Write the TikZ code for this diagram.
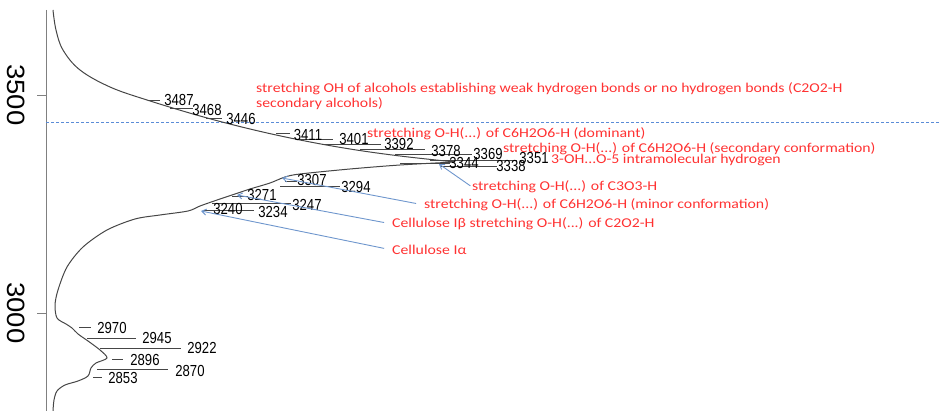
\documentclass[tikz,border=0pt]{standalone}
\usepackage{fontspec}
\usepackage{xcolor}
\usepackage{tikz}
\usetikzlibrary{arrows.meta}

\newfontfamily\redfont[FakeStretch=1.17]{Carlito}
\newfontfamily\numfont[FakeStretch=0.82]{Liberation Sans}
\newfontfamily\axfont[FakeStretch=1.1]{Liberation Sans}
\definecolor{bandred}{RGB}{255,50,50}
\definecolor{arrowblue}{RGB}{110,150,205}
\definecolor{dashblue}{RGB}{90,140,215}
\definecolor{curvegray}{RGB}{70,70,70}

\begin{document}
\begin{tikzpicture}[x=1pt, y=-1pt,
    band/.style={anchor=west, inner sep=0pt, text=bandred, align=left, font=\redfont\fontsize{13.5}{14.5}\selectfont},
    peak/.style={inner sep=0pt, font=\numfont\fontsize{16}{16}\selectfont},
    ticklbl/.style={inner sep=0pt, rotate=-90, font=\axfont\fontsize{25}{25}\selectfont},
    curve/.style={draw=curvegray, line width=1pt},
    lead/.style={draw=curvegray, line width=0.9pt},
    arrow/.style={-{Straight Barb[length=4.5pt,width=6pt]}, draw=arrowblue, line width=0.9pt, shorten <=8pt}
]
\useasboundingbox (0,0) rectangle (940,411);

% axis
\draw[draw=gray, line width=0.9pt] (46,10) -- (46,411);
\draw[draw=gray, line width=0.9pt] (37,95) -- (46,95);
\draw[draw=gray, line width=0.9pt] (37,313) -- (46,313);
\node[ticklbl] (t3500) at (16,95) {3500};
\node[ticklbl] (t3000) at (16,313) {3000};

\draw[draw=dashblue, line width=1pt, dash pattern=on 3pt off 2pt] (46,123) -- (940,123);

% spectrum
\draw[curve] plot[smooth, tension=0.6] coordinates {(53,10) (56,30) (63,50) (80,70) (110,87) (147,100)
    (200,116) (250,129) (300,140) (350,149) (400,156) (455,162)};
\draw[curve] plot[smooth, tension=0.5] coordinates {(455,162) (400,165) (350,169) (300,174) (285,177)
    (270,183) (250,189) (238,193) (220,199) (200,206) (188,211) (160,215) (135,219) (107,230) (83,247)
    (67,267) (58,290) (55,305) (57,318) (66,324) (72,328) (78,334) (88,341) (100,350) (107,358)
    (96,363) (91,368) (88,376) (78,381) (65,385) (57,391) (54,400) (53,411)};

\foreach \xa/\xb/\y in {148/160/100, 170/193/108, 206/222/118, 276/290/133, 297/333/139, 325/381/144,
    360/425/149, 395/472/154, 430/517/160, 400/450/163, 440/497/166, 285/297/181, 280/340/186,
    232/248/196, 212/291/203, 203/254/210, 79/91/327, 87/136/338, 100/181/348, 112/123/359,
    97/168/369, 93/102/377}
    \draw[lead] (\xa,\y) -- (\xb,\y);

\foreach \v/\x/\y in {3487/179/100, 3468/207/110, 3446/241/119, 3411/308/135, 3401/354/139,
    3392/399/144, 3378/446/151, 3369/488/154, 3351/534/158, 3344/464/163, 3338/511/166,
    3307/312/180, 3294/356/187, 3271/262/195, 3247/307/205, 3240/228/209, 3234/273/212,
    2970/112/328, 2945/157/338, 2922/202/348, 2896/145/360, 2870/190/371, 2853/123/378}
    \node[peak] (p\v) at (\x,\y) {\v};

% band assignments
\node[band] (weak) at (256,96) {stretching OH of alcohols establishing weak hydrogen bonds or no hydrogen bonds (C2O2-H\\secondary alcohols)};
\node[band] (dominant) at (367,134) {stretching O-H(...) of C6H2O6-H (dominant)};
\node[band] (second) at (503,149) {stretching O-H(...) of C6H2O6-H (secondary conformation)};
\node[band] (intra) at (551,160) {3-OH...O-5 intramolecular hydrogen};
\node[band] (cthree) at (472,187) {stretching O-H(...) of C3O3-H};
\node[band] (minor) at (424,205) {stretching O-H(...) of C6H2O6-H (minor conformation)};
\node[band] (ibeta) at (392,224) {Cellulose Iβ stretching O-H(...) of C2O2-H};
\node[band] (ialpha) at (392,250) {Cellulose Iα};

\coordinate (tipC3) at (439,164);
\coordinate (tipMinor) at (282,178);
\coordinate (tipBeta) at (237,195);
\coordinate (tipAlpha) at (201,211);

\draw[arrow, shorten <=2pt] (cthree.west) -- (tipC3);
\draw[arrow] (minor.west) -- (tipMinor);
\draw[arrow] (ibeta.west) -- (tipBeta);
\draw[arrow] (ialpha.west) -- (tipAlpha);

\end{tikzpicture}
\end{document}
